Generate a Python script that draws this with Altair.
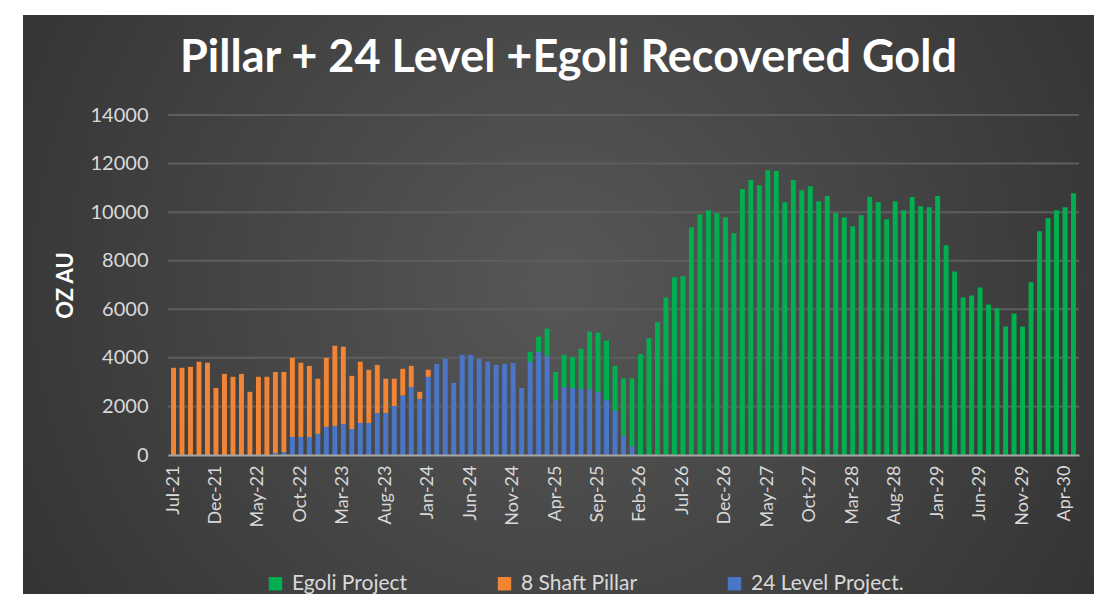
import altair as alt
import pandas as pd

months = pd.date_range("2021-07-01", periods=107, freq="MS").strftime("%b-%y").tolist()

series_names = ["Egoli Project", "8 Shaft Pillar", "24 Level Project."]
series_colors = ["#00B050", "#F28534", "#4A76C8"]

level24 = [0] * 12 + [
    80, 120, 740, 740, 740, 870, 1160, 1200, 1280, 1070,
    1320, 1320, 1730, 1730, 2020, 2450, 2800, 2310, 3220, 3750,
    3960, 2970, 4120, 4120, 3960, 3840, 3710, 3750, 3790, 2760,
    3840, 4250, 4090, 2260, 2800, 2760, 2720, 2720, 2590, 2260,
    1810, 810, 350] + [0] * 52

shaft8 = [
    3590, 3590, 3630, 3840, 3800, 2760, 3340, 3220, 3340, 2600,
    3220, 3220, 3340, 3300, 3260, 3060, 2930, 2270, 2840, 3300,
    3180, 2190, 2520, 2190, 1980, 1410, 1120, 1100, 870, 290,
    290] + [0] * 76

egoli = [0] * 42 + [
    410, 620, 1110, 1160, 1330, 1280, 1660, 2360, 2450, 2450,
    1860, 2350, 2810,
    4150, 4810, 5470, 6490, 7320, 7360, 9380, 9910, 10080, 9960,
    9790, 9130, 10950, 11320, 11110, 11730, 11690, 10410, 11320, 10900,
    11070, 10450, 10660, 9960, 9790, 9420, 9870, 10620, 10410, 9710,
    10450, 10080, 10620, 10240, 10200, 10660, 8640, 7560, 6490, 6570,
    6900, 6200, 6040, 5290, 5830, 5290, 7110, 9210, 9750, 10080,
    10200, 10780]

y_ticks = [0, 2000, 4000, 6000, 8000, 10000, 12000, 14000]
x_label_months = months[::5]

rows = []
for name, order, vals in [("24 Level Project.", 0, level24),
                          ("8 Shaft Pillar", 1, shaft8),
                          ("Egoli Project", 2, egoli)]:
    for m, v in zip(months, vals):
        rows.append({"month": m, "series": name, "ord": order, "value": v})
df = pd.DataFrame(rows)

FONT = "Lato"
LABEL_COLOR = "#d9d9d9"

bg = alt.Chart(pd.DataFrame({"a": [0]})).mark_rect(
    fill={
        "gradient": "radial",
        "x1": 0.5, "y1": 0.48, "r1": 0,
        "x2": 0.5, "y2": 0.48, "r2": 0.72,
        "stops": [
            {"offset": 0, "color": "#575757"},
            {"offset": 1, "color": "#2b2b2b"},
        ],
    }
).encode(
    x=alt.value(-145), x2=alt.value(926), y=alt.value(-100), y2=alt.value(479)
)

grid = alt.Chart(pd.DataFrame({"v": y_ticks[1:]})).mark_rule(
    color="#5e5e5e", strokeWidth=2
).encode(
    y=alt.Y("v:Q", scale=alt.Scale(domain=[0, 14000]))
)

bars = alt.Chart(df).mark_bar().encode(
    x=alt.X(
        "month:N",
        sort=months,
        scale=alt.Scale(paddingInner=0.42, paddingOuter=0.36),
        axis=alt.Axis(
            title=None,
            values=x_label_months,
            labelAngle=270,
            labelFont=FONT,
            labelFontSize=18,
            labelColor=LABEL_COLOR,
            labelPadding=10,
            ticks=False,
            domainColor="#a6a6a6",
            domainWidth=2,
            grid=False,
            zindex=1,
        ),
    ),
    y=alt.Y(
        "value:Q",
        stack="zero",
        scale=alt.Scale(domain=[0, 14000]),
        axis=alt.Axis(
            title="OZ AU",
            values=y_ticks,
            format="d",
            labelFont=FONT,
            labelFontSize=20,
            labelColor=LABEL_COLOR,
            labelPadding=20,
            ticks=False,
            domain=False,
            grid=False,
            titleFont=FONT,
            titleFontSize=22,
            titleFontWeight="bold",
            titleColor="#ffffff",
            titleAngle=270,
            titleBaseline="middle",
            titleX=-103,
            titleY=170,
            zindex=1,
        ),
    ),
    color=alt.Color(
        "series:N",
        scale=alt.Scale(domain=series_names, range=series_colors),
        legend=alt.Legend(
            title=None,
            orient="none",
            legendX=97,
            legendY=458,
            direction="horizontal",
            symbolType="square",
            symbolSize=180,
            symbolStrokeWidth=0,
            labelFont=FONT,
            labelFontSize=21,
            labelColor=LABEL_COLOR,
            labelOffset=6,
            columnPadding=86,
            padding=0,
            zindex=1,
        ),
    ),
    order=alt.Order("ord:Q", sort="ascending"),
)

chart = alt.layer(bg, grid, bars).properties(
    width=911,
    height=340,
    title=alt.TitleParams(
        text="Pillar + 24 Level +Egoli Recovered Gold",
        font=FONT,
        fontSize=45,
        fontWeight="bold",
        color="#ffffff",
        anchor="middle",
        frame="group",
        baseline="alphabetic",
        dx=-55,
        offset=-102,
        zindex=1,
    ),
    autosize=alt.AutoSizeParams(type="none"),
    padding={"left": 160, "top": 107, "right": 15, "bottom": 139},
    background="#ffffff",
).configure_view(strokeWidth=0)

chart.save("out.html", embed_options={"renderer": "svg", "actions": False})
